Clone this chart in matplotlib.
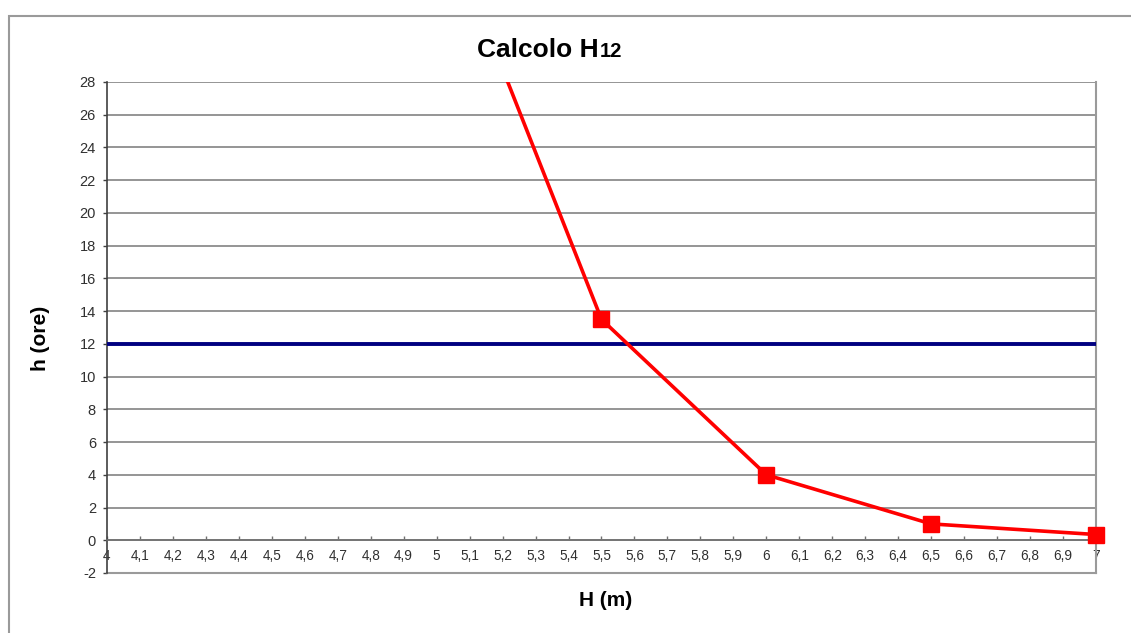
import matplotlib
matplotlib.use("Agg")
import matplotlib.pyplot as plt
import matplotlib.ticker as mticker
from matplotlib.patches import Rectangle

plt.rcParams["font.family"] = ["Liberation Sans", "DejaVu Sans"]
plt.rcParams["axes.unicode_minus"] = False

# altezza H (m) e durata h (ore)
H_m = [5.0, 5.5, 6.0, 6.5, 7.0]
h_ore = [39.0, 13.5, 4.0, 1.0, 0.35]

# soglia delle 12 ore
soglia_x = [4.0, 7.0]
soglia_h = [12, 12]

fig = plt.figure(figsize=(11.31, 6.33), dpi=100)
ax = fig.add_axes([0.0946, 0.0948, 0.8744, 0.7757])

ax.set_xlim(4, 7)
ax.set_ylim(-2, 28)
ax.xaxis.set_major_locator(mticker.MultipleLocator(0.1))
ax.yaxis.set_major_locator(mticker.MultipleLocator(2))
ax.xaxis.set_major_formatter(mticker.FuncFormatter(lambda v, _: f"{round(v, 1):g}".replace(".", ",")))

ax.grid(axis="y", color="#8c8c8c", linewidth=1.3)
ax.grid(axis="x", visible=False)
ax.set_axisbelow(True)

# asse x sullo zero, bordo grigio attorno all'area del grafico
ax.spines["bottom"].set_position(("data", 0))
ax.spines["bottom"].set_color("#707070")
ax.spines["bottom"].set_linewidth(1.2)
ax.spines["left"].set_color("#404040")
ax.spines["left"].set_linewidth(1.2)
ax.spines["right"].set_color("#9a9a9a")
ax.spines["right"].set_linewidth(1.5)
ax.spines["top"].set_visible(False)
ax.axhline(-2, color="#9a9a9a", linewidth=1.5, clip_on=False, zorder=1)

ax.tick_params(axis="x", direction="in", length=3, width=1, color="#707070",
               labelsize=9.8, labelcolor="#303030", pad=6)
ax.tick_params(axis="y", direction="out", length=3, width=1, color="#404040",
               labelsize=10.5, labelcolor="#303030", pad=5)

ax.plot(soglia_x, soglia_h, color="#000080", linewidth=2.8, zorder=3)

ax.plot(H_m, h_ore, color="#ff0000", linewidth=2.6, zorder=4)
vis = [i for i, v in enumerate(h_ore) if v <= 28]
ax.plot([H_m[i] for i in vis], [h_ore[i] for i in vis], linestyle="none",
        marker="s", markersize=11, color="#ff0000", clip_on=False, zorder=5)

# titolo con pedice
t = fig.text(0.4218, 0.91, "Calcolo H", fontsize=19, fontweight="bold",
             ha="left", va="baseline")
ax.annotate("12", xy=(1.0, 0.91), xycoords=(t, "figure fraction"),
            xytext=(1, 0), textcoords="offset points",
            fontsize=14.5, fontweight="bold", ha="left", va="baseline")

fig.text(40 / 1131, 1 - 338 / 633, "h (ore)", fontsize=15, fontweight="bold",
         rotation=90, ha="center", va="center")
fig.text(606 / 1131, 1 - 601 / 633, "H (m)", fontsize=15, fontweight="bold",
         ha="center", va="center")

# cornice esterna
fig.patches.append(Rectangle((9 / 1131, -0.05), 1.1, 1 - 16 / 633 + 0.05,
                             transform=fig.transFigure, fill=False,
                             edgecolor="#9a9a9a", linewidth=1.5))

fig.savefig("out.png", dpi=100)
